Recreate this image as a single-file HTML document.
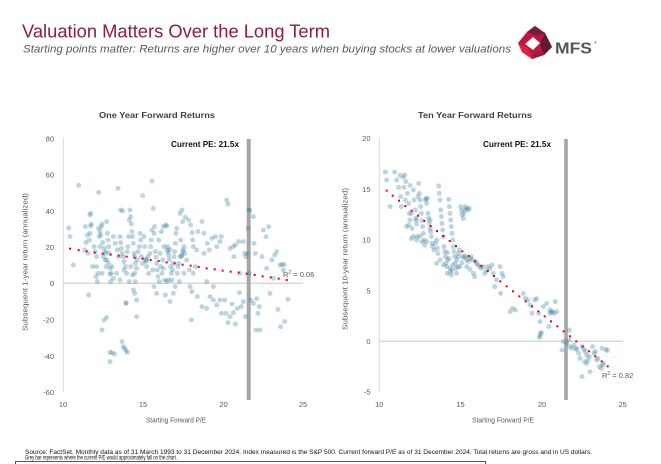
<!DOCTYPE html>
<html><head><meta charset="utf-8">
<style>
html,body{margin:0;padding:0;background:#fff;}
svg{display:block;}
text{font-family:"Liberation Sans",Arial,sans-serif;}
.pt circle{fill:#357b9a;fill-opacity:0.32;}
.tk{font-size:7.5px;fill:#595959;}
</style></head>
<body>
<svg width="661" height="464" viewBox="0 0 661 464" xmlns="http://www.w3.org/2000/svg">
<rect width="661" height="464" fill="#fff"/>
<!-- Header -->
<text x="22" y="37.5" font-size="18" fill="#8c1c40" textLength="308" lengthAdjust="spacingAndGlyphs">Valuation Matters Over the Long Term</text>
<text x="23" y="52.5" font-size="11" font-style="italic" fill="#595959" textLength="488" lengthAdjust="spacingAndGlyphs">Starting points matter: Returns are higher over 10 years when buying stocks at lower valuations</text>
<!-- Logo -->
<g transform="translate(518,26)">
<polygon points="0,17 9,6 17,0 27,7 34,21 26,29 14,33 4,26" fill="#c0163f"/>
<polygon points="9,6 17,0 27,7 20,10" fill="#7a1b3a"/>
<polygon points="27,7 34,21 26,29 22,18" fill="#5e1a30"/>
<polygon points="0,17 4,26 14,33 10,22" fill="#e0213f"/>
<polygon points="7,18 15,11 22,17 15,24" fill="#fff"/>
<polygon points="14,33 26,29 18,24" fill="#9d1a3c"/>
</g>
<text x="555" y="53.5" font-size="16" font-weight="bold" fill="#555" textLength="37" lengthAdjust="spacingAndGlyphs">MFS</text>
<text x="594" y="44" font-size="4" fill="#555">®</text>

<!-- LEFT CHART -->
<text x="99" y="118" font-size="8" font-weight="bold" fill="#404040" textLength="116" lengthAdjust="spacingAndGlyphs">One Year Forward Returns</text>
<line x1="63.3" y1="138" x2="63.3" y2="392" stroke="#d9d9d9" stroke-width="1"/>
<line x1="63.3" y1="283.3" x2="303" y2="283.3" stroke="#c8c8c8" stroke-width="1"/>
<g class="tk" text-anchor="end">
<text x="54" y="141.3">80</text>
<text x="54" y="177.6">60</text>
<text x="54" y="213.8">40</text>
<text x="54" y="250">20</text>
<text x="54" y="286.1">0</text>
<text x="54" y="322.5">-20</text>
<text x="54" y="358.8">-40</text>
<text x="54" y="395">-60</text>
</g>
<g class="tk" text-anchor="middle">
<text x="63" y="407">10</text>
<text x="143" y="407">15</text>
<text x="223.5" y="407">20</text>
<text x="303" y="407">25</text>
</g>
<text class="tk" x="176" y="422.5" text-anchor="middle" textLength="60" lengthAdjust="spacingAndGlyphs">Starting Forward P/E</text>
<text class="tk" transform="translate(27.5,262) rotate(-90)" text-anchor="middle" textLength="138" lengthAdjust="spacingAndGlyphs">Subsequent 1-year return (annualized)</text>
<rect x="246.7" y="139" width="4" height="261" fill="#a6a6a6"/>
<text x="171" y="147" font-size="8.5" font-weight="bold" fill="#111" textLength="68" lengthAdjust="spacingAndGlyphs">Current PE: 21.5x</text>

<g class="pt" transform="translate(0,100) scale(0.33333)">
<circle cx="206" cy="384" r="7.5"/><circle cx="210" cy="410" r="7.5"/><circle cx="220" cy="495" r="7.5"/><circle cx="236" cy="256" r="7.5"/><circle cx="254" cy="450" r="7.5"/><circle cx="256" cy="380" r="7.5"/><circle cx="262" cy="405" r="7.5"/><circle cx="266" cy="585" r="7.5"/><circle cx="270" cy="345" r="7.5"/><circle cx="272" cy="340" r="7.5"/><circle cx="274" cy="372" r="7.5"/><circle cx="272" cy="378" r="7.5"/><circle cx="270" cy="400" r="7.5"/><circle cx="268" cy="420" r="7.5"/><circle cx="278" cy="500" r="7.5"/><circle cx="282" cy="440" r="7.5"/><circle cx="286" cy="455" r="7.5"/><circle cx="290" cy="470" r="7.5"/><circle cx="288" cy="530" r="7.5"/><circle cx="292" cy="545" r="7.5"/><circle cx="258" cy="428" r="7.5"/><circle cx="264" cy="460" r="7.5"/>
<circle cx="296" cy="277" r="7.5"/><circle cx="296" cy="385" r="7.5"/><circle cx="300" cy="395" r="7.5"/><circle cx="302" cy="405" r="7.5"/><circle cx="298" cy="410" r="7.5"/><circle cx="304" cy="380" r="7.5"/><circle cx="306" cy="372" r="7.5"/><circle cx="300" cy="440" r="7.5"/><circle cx="308" cy="428" r="7.5"/><circle cx="312" cy="445" r="7.5"/><circle cx="314" cy="460" r="7.5"/><circle cx="310" cy="470" r="7.5"/><circle cx="316" cy="480" r="7.5"/><circle cx="318" cy="455" r="7.5"/><circle cx="318" cy="500" r="7.5"/><circle cx="320" cy="365" r="7.5"/><circle cx="322" cy="400" r="7.5"/><circle cx="324" cy="420" r="7.5"/><circle cx="326" cy="440" r="7.5"/><circle cx="328" cy="460" r="7.5"/><circle cx="320" cy="480" r="7.5"/><circle cx="326" cy="490" r="7.5"/><circle cx="330" cy="505" r="7.5"/><circle cx="330" cy="522" r="7.5"/><circle cx="334" cy="520" r="7.5"/><circle cx="336" cy="500" r="7.5"/><circle cx="306" cy="690" r="7.5"/><circle cx="312" cy="660" r="7.5"/><circle cx="320" cy="652" r="7.5"/><circle cx="330" cy="757" r="7.5"/><circle cx="330" cy="785" r="7.5"/><circle cx="336" cy="758" r="7.5"/><circle cx="344" cy="762" r="7.5"/><circle cx="332" cy="545" r="7.5"/><circle cx="290" cy="500" r="7.5"/><circle cx="294" cy="520" r="7.5"/><circle cx="306" cy="520" r="7.5"/>
<circle cx="354" cy="265" r="7.5"/><circle cx="362" cy="330" r="7.5"/><circle cx="368" cy="333" r="7.5"/><circle cx="340" cy="410" r="7.5"/><circle cx="346" cy="430" r="7.5"/><circle cx="352" cy="450" r="7.5"/><circle cx="356" cy="470" r="7.5"/><circle cx="360" cy="410" r="7.5"/><circle cx="362" cy="428" r="7.5"/><circle cx="364" cy="445" r="7.5"/><circle cx="366" cy="460" r="7.5"/><circle cx="370" cy="470" r="7.5"/><circle cx="372" cy="485" r="7.5"/><circle cx="376" cy="500" r="7.5"/><circle cx="380" cy="520" r="7.5"/><circle cx="382" cy="455" r="7.5"/><circle cx="384" cy="440" r="7.5"/><circle cx="386" cy="410" r="7.5"/><circle cx="388" cy="360" r="7.5"/><circle cx="390" cy="330" r="7.5"/><circle cx="392" cy="350" r="7.5"/><circle cx="394" cy="372" r="7.5"/><circle cx="396" cy="395" r="7.5"/><circle cx="398" cy="410" r="7.5"/><circle cx="400" cy="430" r="7.5"/><circle cx="402" cy="460" r="7.5"/><circle cx="404" cy="470" r="7.5"/><circle cx="406" cy="490" r="7.5"/><circle cx="404" cy="520" r="7.5"/><circle cx="406" cy="545" r="7.5"/><circle cx="410" cy="505" r="7.5"/><circle cx="412" cy="480" r="7.5"/><circle cx="366" cy="725" r="7.5"/><circle cx="370" cy="740" r="7.5"/><circle cx="374" cy="745" r="7.5"/><circle cx="378" cy="752" r="7.5"/><circle cx="382" cy="757" r="7.5"/><circle cx="378" cy="610" r="7.5"/><circle cx="378" cy="609" r="7.5"/><circle cx="400" cy="570" r="7.5"/><circle cx="404" cy="580" r="7.5"/><circle cx="410" cy="600" r="7.5"/><circle cx="410" cy="650" r="7.5"/><circle cx="414" cy="455" r="7.5"/><circle cx="418" cy="440" r="7.5"/><circle cx="420" cy="400" r="7.5"/><circle cx="422" cy="420" r="7.5"/><circle cx="424" cy="470" r="7.5"/><circle cx="428" cy="490" r="7.5"/><circle cx="340" cy="535" r="7.5"/><circle cx="350" cy="520" r="7.5"/><circle cx="360" cy="540" r="7.5"/><circle cx="388" cy="545" r="7.5"/><circle cx="398" cy="525" r="7.5"/><circle cx="392" cy="500" r="7.5"/><circle cx="372" cy="510" r="7.5"/>
<circle cx="428" cy="287" r="7.5"/><circle cx="432" cy="410" r="7.5"/><circle cx="434" cy="440" r="7.5"/><circle cx="436" cy="478" r="7.5"/><circle cx="438" cy="484" r="7.5"/><circle cx="440" cy="480" r="7.5"/><circle cx="444" cy="470" r="7.5"/><circle cx="440" cy="500" r="7.5"/><circle cx="446" cy="520" r="7.5"/><circle cx="450" cy="460" r="7.5"/><circle cx="452" cy="440" r="7.5"/><circle cx="454" cy="420" r="7.5"/><circle cx="456" cy="243" r="7.5"/><circle cx="460" cy="325" r="7.5"/><circle cx="462" cy="400" r="7.5"/><circle cx="464" cy="380" r="7.5"/><circle cx="466" cy="455" r="7.5"/><circle cx="468" cy="472" r="7.5"/><circle cx="470" cy="490" r="7.5"/><circle cx="472" cy="510" r="7.5"/><circle cx="474" cy="530" r="7.5"/><circle cx="476" cy="420" r="7.5"/><circle cx="478" cy="545" r="7.5"/><circle cx="480" cy="460" r="7.5"/><circle cx="482" cy="500" r="7.5"/><circle cx="486" cy="520" r="7.5"/><circle cx="488" cy="480" r="7.5"/><circle cx="490" cy="505" r="7.5"/><circle cx="492" cy="440" r="7.5"/><circle cx="496" cy="585" r="7.5"/><circle cx="470" cy="580" r="7.5"/><circle cx="494" cy="540" r="7.5"/><circle cx="458" cy="510" r="7.5"/><circle cx="456" cy="390" r="7.5"/><circle cx="484" cy="395" r="7.5"/><circle cx="490" cy="380" r="7.5"/><circle cx="498" cy="375" r="7.5"/><circle cx="462" cy="560" r="7.5"/>
<circle cx="500" cy="378" r="7.5"/><circle cx="502" cy="440" r="7.5"/><circle cx="502" cy="450" r="7.5"/><circle cx="504" cy="455" r="7.5"/><circle cx="506" cy="465" r="7.5"/><circle cx="508" cy="478" r="7.5"/><circle cx="510" cy="448" r="7.5"/><circle cx="512" cy="500" r="7.5"/><circle cx="514" cy="520" r="7.5"/><circle cx="516" cy="540" r="7.5"/><circle cx="518" cy="510" r="7.5"/><circle cx="520" cy="490" r="7.5"/><circle cx="522" cy="470" r="7.5"/><circle cx="524" cy="455" r="7.5"/><circle cx="526" cy="430" r="7.5"/><circle cx="528" cy="400" r="7.5"/><circle cx="530" cy="385" r="7.5"/><circle cx="532" cy="520" r="7.5"/><circle cx="534" cy="500" r="7.5"/><circle cx="540" cy="470" r="7.5"/><circle cx="544" cy="470" r="7.5"/><circle cx="546" cy="465" r="7.5"/><circle cx="548" cy="455" r="7.5"/><circle cx="550" cy="450" r="7.5"/><circle cx="552" cy="440" r="7.5"/><circle cx="554" cy="460" r="7.5"/><circle cx="540" cy="340" r="7.5"/><circle cx="546" cy="330" r="7.5"/><circle cx="548" cy="365" r="7.5"/><circle cx="552" cy="520" r="7.5"/><circle cx="506" cy="540" r="7.5"/><circle cx="500" cy="545" r="7.5"/><circle cx="520" cy="580" r="7.5"/><circle cx="510" cy="605" r="7.5"/><circle cx="526" cy="560" r="7.5"/><circle cx="536" cy="490" r="7.5"/><circle cx="542" cy="420" r="7.5"/><circle cx="538" cy="545" r="7.5"/>
<circle cx="556" cy="352" r="7.5"/><circle cx="566" cy="360" r="7.5"/><circle cx="572" cy="375" r="7.5"/><circle cx="576" cy="398" r="7.5"/><circle cx="578" cy="420" r="7.5"/><circle cx="580" cy="440" r="7.5"/><circle cx="590" cy="450" r="7.5"/><circle cx="594" cy="395" r="7.5"/><circle cx="606" cy="365" r="7.5"/><circle cx="612" cy="400" r="7.5"/><circle cx="622" cy="430" r="7.5"/><circle cx="628" cy="450" r="7.5"/><circle cx="636" cy="415" r="7.5"/><circle cx="646" cy="410" r="7.5"/><circle cx="650" cy="440" r="7.5"/><circle cx="660" cy="425" r="7.5"/><circle cx="664" cy="410" r="7.5"/><circle cx="680" cy="300" r="7.5"/><circle cx="684" cy="312" r="7.5"/><circle cx="690" cy="445" r="7.5"/><circle cx="700" cy="440" r="7.5"/><circle cx="706" cy="435" r="7.5"/><circle cx="716" cy="425" r="7.5"/><circle cx="730" cy="425" r="7.5"/><circle cx="734" cy="460" r="7.5"/><circle cx="738" cy="470" r="7.5"/><circle cx="568" cy="510" r="7.5"/><circle cx="580" cy="520" r="7.5"/><circle cx="570" cy="560" r="7.5"/><circle cx="576" cy="575" r="7.5"/><circle cx="592" cy="590" r="7.5"/><circle cx="606" cy="620" r="7.5"/><circle cx="620" cy="625" r="7.5"/><circle cx="630" cy="590" r="7.5"/><circle cx="640" cy="600" r="7.5"/><circle cx="650" cy="615" r="7.5"/><circle cx="660" cy="600" r="7.5"/><circle cx="664" cy="640" r="7.5"/><circle cx="674" cy="600" r="7.5"/><circle cx="678" cy="640" r="7.5"/><circle cx="684" cy="668" r="7.5"/><circle cx="690" cy="650" r="7.5"/><circle cx="696" cy="612" r="7.5"/><circle cx="700" cy="638" r="7.5"/><circle cx="706" cy="672" r="7.5"/><circle cx="712" cy="625" r="7.5"/><circle cx="718" cy="578" r="7.5"/><circle cx="724" cy="620" r="7.5"/><circle cx="730" cy="605" r="7.5"/><circle cx="736" cy="650" r="7.5"/><circle cx="574" cy="660" r="7.5"/><circle cx="560" cy="480" r="7.5"/><circle cx="586" cy="500" r="7.5"/><circle cx="620" cy="545" r="7.5"/><circle cx="640" cy="560" r="7.5"/><circle cx="612" cy="460" r="7.5"/><circle cx="702" cy="470" r="7.5"/><circle cx="720" cy="520" r="7.5"/>
<circle cx="748" cy="330" r="7.5"/><circle cx="748" cy="331" r="7.5"/><circle cx="744" cy="385" r="7.5"/><circle cx="742" cy="460" r="7.5"/><circle cx="748" cy="520" r="7.5"/><circle cx="752" cy="600" r="7.5"/><circle cx="760" cy="350" r="7.5"/><circle cx="762" cy="430" r="7.5"/><circle cx="766" cy="460" r="7.5"/><circle cx="770" cy="596" r="7.5"/><circle cx="768" cy="690" r="7.5"/><circle cx="774" cy="640" r="7.5"/><circle cx="778" cy="620" r="7.5"/><circle cx="786" cy="470" r="7.5"/><circle cx="790" cy="390" r="7.5"/><circle cx="798" cy="410" r="7.5"/><circle cx="800" cy="505" r="7.5"/><circle cx="806" cy="380" r="7.5"/><circle cx="810" cy="580" r="7.5"/><circle cx="816" cy="480" r="7.5"/><circle cx="820" cy="535" r="7.5"/><circle cx="824" cy="465" r="7.5"/><circle cx="830" cy="455" r="7.5"/><circle cx="834" cy="628" r="7.5"/><circle cx="840" cy="495" r="7.5"/><circle cx="842" cy="680" r="7.5"/><circle cx="846" cy="494" r="7.5"/><circle cx="850" cy="510" r="7.5"/><circle cx="852" cy="494" r="7.5"/><circle cx="854" cy="665" r="7.5"/><circle cx="864" cy="598" r="7.5"/><circle cx="760" cy="610" r="7.5"/><circle cx="780" cy="690" r="7.5"/>
</g>
<g fill="#e00010" transform="translate(0,100) scale(0.33333)">
<rect x="207" y="443" width="6" height="6"/><rect x="233" y="447" width="6" height="6"/><rect x="257" y="451" width="6" height="6"/><rect x="281" y="455" width="6" height="6"/><rect x="305" y="458" width="6" height="6"/><rect x="329" y="461" width="6" height="6"/><rect x="353" y="464" width="6" height="6"/><rect x="377" y="467" width="6" height="6"/><rect x="401" y="470" width="6" height="6"/><rect x="425" y="473" width="6" height="6"/><rect x="449" y="477" width="6" height="6"/><rect x="473" y="480" width="6" height="6"/><rect x="497" y="484" width="6" height="6"/><rect x="521" y="487" width="6" height="6"/><rect x="545" y="491" width="6" height="6"/><rect x="569" y="494" width="6" height="6"/><rect x="593" y="498" width="6" height="6"/><rect x="617" y="502" width="6" height="6"/><rect x="641" y="505" width="6" height="6"/><rect x="665" y="509" width="6" height="6"/><rect x="689" y="512" width="6" height="6"/><rect x="713" y="515" width="6" height="6"/><rect x="737" y="518" width="6" height="6"/><rect x="761" y="522" width="6" height="6"/><rect x="785" y="526" width="6" height="6"/><rect x="809" y="529" width="6" height="6"/><rect x="833" y="533" width="6" height="6"/><rect x="857" y="537" width="6" height="6"/>
</g>
<text class="tk" x="283" y="277">R<tspan font-size="5" dy="-3">2</tspan><tspan dy="3"> = 0.06</tspan></text>

<!-- RIGHT CHART -->
<text x="418" y="118" font-size="8" font-weight="bold" fill="#404040" textLength="114" lengthAdjust="spacingAndGlyphs">Ten Year Forward Returns</text>
<line x1="379.3" y1="138" x2="379.3" y2="392" stroke="#d9d9d9" stroke-width="1"/>
<line x1="379.3" y1="341.3" x2="623" y2="341.3" stroke="#c8c8c8" stroke-width="1"/>
<g class="tk" text-anchor="end">
<text x="370.5" y="141">20</text>
<text x="370.5" y="191.9">15</text>
<text x="370.5" y="242.6">10</text>
<text x="370.5" y="293.3">5</text>
<text x="370.5" y="344">0</text>
<text x="370.5" y="394.7">-5</text>
</g>
<g class="tk" text-anchor="middle">
<text x="379.3" y="407">10</text>
<text x="460.5" y="407">15</text>
<text x="542" y="407">20</text>
<text x="622.7" y="407">25</text>
</g>
<text class="tk" x="503" y="422.5" text-anchor="middle" textLength="62" lengthAdjust="spacingAndGlyphs">Starting Forward P/E</text>
<text class="tk" transform="translate(347.5,259) rotate(-90)" text-anchor="middle" textLength="142" lengthAdjust="spacingAndGlyphs">Subsequent 10-year return (annualized)</text>
<rect x="564.2" y="139" width="3.6" height="261" fill="#a6a6a6"/>
<text x="483" y="147" font-size="8.5" font-weight="bold" fill="#111" textLength="68" lengthAdjust="spacingAndGlyphs">Current PE: 21.5x</text>

<g class="pt" transform="translate(330,100) scale(0.33333)">
<circle cx="166" cy="216" r="7.5"/><circle cx="170" cy="240" r="7.5"/><circle cx="180" cy="320" r="7.5"/><circle cx="194" cy="216" r="7.5"/><circle cx="200" cy="240" r="7.5"/><circle cx="206" cy="262" r="7.5"/><circle cx="210" cy="226" r="7.5"/><circle cx="212" cy="290" r="7.5"/><circle cx="214" cy="320" r="7.5"/><circle cx="220" cy="232" r="7.5"/><circle cx="222" cy="262" r="7.5"/><circle cx="226" cy="300" r="7.5"/><circle cx="228" cy="245" r="7.5"/><circle cx="232" cy="280" r="7.5"/><circle cx="236" cy="310" r="7.5"/><circle cx="240" cy="256" r="7.5"/><circle cx="238" cy="340" r="7.5"/><circle cx="240" cy="360" r="7.5"/><circle cx="236" cy="375" r="7.5"/><circle cx="230" cy="380" r="7.5"/><circle cx="224" cy="225" r="7.5"/><circle cx="244" cy="416" r="7.5"/>
<circle cx="244" cy="340" r="7.5"/><circle cx="246" cy="385" r="7.5"/><circle cx="250" cy="270" r="7.5"/><circle cx="252" cy="300" r="7.5"/><circle cx="256" cy="330" r="7.5"/><circle cx="258" cy="355" r="7.5"/><circle cx="258" cy="360" r="7.5"/><circle cx="260" cy="372" r="7.5"/><circle cx="262" cy="410" r="7.5"/><circle cx="264" cy="290" r="7.5"/><circle cx="266" cy="250" r="7.5"/><circle cx="268" cy="280" r="7.5"/><circle cx="270" cy="300" r="7.5"/><circle cx="272" cy="320" r="7.5"/><circle cx="274" cy="340" r="7.5"/><circle cx="276" cy="362" r="7.5"/><circle cx="278" cy="380" r="7.5"/><circle cx="280" cy="400" r="7.5"/><circle cx="282" cy="420" r="7.5"/><circle cx="284" cy="435" r="7.5"/><circle cx="286" cy="300" r="7.5"/><circle cx="288" cy="295" r="7.5"/><circle cx="290" cy="310" r="7.5"/><circle cx="292" cy="296" r="7.5"/><circle cx="294" cy="340" r="7.5"/><circle cx="296" cy="355" r="7.5"/><circle cx="298" cy="370" r="7.5"/><circle cx="300" cy="385" r="7.5"/><circle cx="302" cy="395" r="7.5"/><circle cx="304" cy="410" r="7.5"/><circle cx="306" cy="430" r="7.5"/><circle cx="308" cy="440" r="7.5"/><circle cx="270" cy="408" r="7.5"/><circle cx="260" cy="420" r="7.5"/><circle cx="250" cy="410" r="7.5"/><circle cx="276" cy="425" r="7.5"/><circle cx="290" cy="425" r="7.5"/><circle cx="300" cy="360" r="7.5"/>
<circle cx="312" cy="450" r="7.5"/><circle cx="316" cy="430" r="7.5"/><circle cx="320" cy="420" r="7.5"/><circle cx="322" cy="445" r="7.5"/><circle cx="324" cy="460" r="7.5"/><circle cx="326" cy="258" r="7.5"/><circle cx="328" cy="280" r="7.5"/><circle cx="330" cy="300" r="7.5"/><circle cx="332" cy="330" r="7.5"/><circle cx="334" cy="350" r="7.5"/><circle cx="336" cy="370" r="7.5"/><circle cx="338" cy="390" r="7.5"/><circle cx="340" cy="410" r="7.5"/><circle cx="342" cy="440" r="7.5"/><circle cx="344" cy="455" r="7.5"/><circle cx="346" cy="470" r="7.5"/><circle cx="348" cy="490" r="7.5"/><circle cx="350" cy="500" r="7.5"/><circle cx="352" cy="520" r="7.5"/><circle cx="354" cy="480" r="7.5"/><circle cx="356" cy="298" r="7.5"/><circle cx="358" cy="320" r="7.5"/><circle cx="360" cy="340" r="7.5"/><circle cx="362" cy="360" r="7.5"/><circle cx="364" cy="380" r="7.5"/><circle cx="366" cy="400" r="7.5"/><circle cx="368" cy="420" r="7.5"/><circle cx="370" cy="440" r="7.5"/><circle cx="372" cy="455" r="7.5"/><circle cx="374" cy="470" r="7.5"/><circle cx="376" cy="490" r="7.5"/><circle cx="378" cy="505" r="7.5"/><circle cx="380" cy="520" r="7.5"/><circle cx="384" cy="470" r="7.5"/><circle cx="386" cy="460" r="7.5"/><circle cx="388" cy="450" r="7.5"/><circle cx="360" cy="505" r="7.5"/><circle cx="362" cy="515" r="7.5"/><circle cx="364" cy="525" r="7.5"/><circle cx="366" cy="510" r="7.5"/><circle cx="368" cy="495" r="7.5"/><circle cx="340" cy="495" r="7.5"/><circle cx="330" cy="480" r="7.5"/><circle cx="320" cy="490" r="7.5"/><circle cx="352" cy="458" r="7.5"/><circle cx="356" cy="475" r="7.5"/>
<circle cx="392" cy="320" r="7.5"/><circle cx="394" cy="332" r="7.5"/><circle cx="396" cy="345" r="7.5"/><circle cx="400" cy="355" r="7.5"/><circle cx="402" cy="340" r="7.5"/><circle cx="404" cy="330" r="7.5"/><circle cx="406" cy="320" r="7.5"/><circle cx="410" cy="325" r="7.5"/><circle cx="414" cy="330" r="7.5"/><circle cx="418" cy="325" r="7.5"/><circle cx="398" cy="470" r="7.5"/><circle cx="402" cy="472" r="7.5"/><circle cx="406" cy="468" r="7.5"/><circle cx="410" cy="478" r="7.5"/><circle cx="414" cy="484" r="7.5"/><circle cx="420" cy="476" r="7.5"/><circle cx="424" cy="470" r="7.5"/><circle cx="426" cy="480" r="7.5"/><circle cx="430" cy="520" r="7.5"/><circle cx="434" cy="530" r="7.5"/><circle cx="436" cy="484" r="7.5"/><circle cx="440" cy="490" r="7.5"/><circle cx="444" cy="495" r="7.5"/><circle cx="450" cy="500" r="7.5"/><circle cx="454" cy="505" r="7.5"/><circle cx="460" cy="500" r="7.5"/><circle cx="464" cy="520" r="7.5"/><circle cx="470" cy="512" r="7.5"/><circle cx="474" cy="500" r="7.5"/><circle cx="480" cy="505" r="7.5"/><circle cx="486" cy="495" r="7.5"/><circle cx="490" cy="520" r="7.5"/><circle cx="494" cy="560" r="7.5"/><circle cx="500" cy="540" r="7.5"/><circle cx="410" cy="500" r="7.5"/><circle cx="390" cy="500" r="7.5"/><circle cx="396" cy="488" r="7.5"/><circle cx="420" cy="508" r="7.5"/><circle cx="380" cy="480" r="7.5"/><circle cx="384" cy="500" r="7.5"/>
<circle cx="510" cy="500" r="7.5"/><circle cx="512" cy="580" r="7.5"/><circle cx="516" cy="520" r="7.5"/><circle cx="520" cy="530" r="7.5"/><circle cx="540" cy="635" r="7.5"/><circle cx="548" cy="625" r="7.5"/><circle cx="556" cy="630" r="7.5"/><circle cx="580" cy="580" r="7.5"/><circle cx="586" cy="595" r="7.5"/><circle cx="594" cy="600" r="7.5"/><circle cx="600" cy="615" r="7.5"/><circle cx="606" cy="640" r="7.5"/><circle cx="614" cy="600" r="7.5"/><circle cx="620" cy="596" r="7.5"/><circle cx="626" cy="640" r="7.5"/><circle cx="630" cy="665" r="7.5"/><circle cx="640" cy="620" r="7.5"/><circle cx="650" cy="610" r="7.5"/><circle cx="656" cy="680" r="7.5"/><circle cx="660" cy="640" r="7.5"/><circle cx="664" cy="636" r="7.5"/><circle cx="668" cy="635" r="7.5"/><circle cx="672" cy="640" r="7.5"/><circle cx="676" cy="605" r="7.5"/><circle cx="680" cy="635" r="7.5"/><circle cx="628" cy="712" r="7.5"/><circle cx="632" cy="700" r="7.5"/><circle cx="630" cy="708" r="7.5"/><circle cx="634" cy="698" r="7.5"/><circle cx="696" cy="750" r="7.5"/><circle cx="660" cy="630" r="7.5"/>
<circle cx="700" cy="725" r="7.5"/><circle cx="710" cy="730" r="7.5"/><circle cx="716" cy="720" r="7.5"/><circle cx="718" cy="690" r="7.5"/><circle cx="720" cy="740" r="7.5"/><circle cx="726" cy="745" r="7.5"/><circle cx="732" cy="735" r="7.5"/><circle cx="738" cy="745" r="7.5"/><circle cx="740" cy="748" r="7.5"/><circle cx="746" cy="760" r="7.5"/><circle cx="750" cy="775" r="7.5"/><circle cx="756" cy="740" r="7.5"/><circle cx="762" cy="748" r="7.5"/><circle cx="766" cy="755" r="7.5"/><circle cx="770" cy="765" r="7.5"/><circle cx="774" cy="780" r="7.5"/><circle cx="778" cy="770" r="7.5"/><circle cx="788" cy="740" r="7.5"/><circle cx="792" cy="760" r="7.5"/><circle cx="796" cy="755" r="7.5"/><circle cx="800" cy="780" r="7.5"/><circle cx="804" cy="775" r="7.5"/><circle cx="808" cy="800" r="7.5"/><circle cx="814" cy="805" r="7.5"/><circle cx="818" cy="795" r="7.5"/><circle cx="820" cy="790" r="7.5"/><circle cx="816" cy="745" r="7.5"/><circle cx="828" cy="748" r="7.5"/><circle cx="832" cy="752" r="7.5"/><circle cx="756" cy="830" r="7.5"/><circle cx="780" cy="815" r="7.5"/><circle cx="764" cy="785" r="7.5"/><circle cx="770" cy="790" r="7.5"/>
</g>
<g fill="#e00010" transform="translate(330,100) scale(0.33333)">
<rect x="167" y="269" width="6" height="6"/><rect x="185" y="284" width="6" height="6"/><rect x="204" y="299" width="6" height="6"/><rect x="223" y="315" width="6" height="6"/><rect x="242" y="329" width="6" height="6"/><rect x="261" y="344" width="6" height="6"/><rect x="280" y="360" width="6" height="6"/><rect x="299" y="375" width="6" height="6"/><rect x="318" y="390" width="6" height="6"/><rect x="337" y="405" width="6" height="6"/><rect x="356" y="420" width="6" height="6"/><rect x="375" y="435" width="6" height="6"/><rect x="394" y="451" width="6" height="6"/><rect x="413" y="465" width="6" height="6"/><rect x="432" y="481" width="6" height="6"/><rect x="451" y="495" width="6" height="6"/><rect x="470" y="510" width="6" height="6"/><rect x="489" y="525" width="6" height="6"/><rect x="508" y="541" width="6" height="6"/><rect x="527" y="556" width="6" height="6"/><rect x="546" y="571" width="6" height="6"/><rect x="565" y="586" width="6" height="6"/><rect x="584" y="601" width="6" height="6"/><rect x="603" y="616" width="6" height="6"/><rect x="622" y="631" width="6" height="6"/><rect x="641" y="646" width="6" height="6"/><rect x="660" y="661" width="6" height="6"/><rect x="679" y="676" width="6" height="6"/><rect x="698" y="691" width="6" height="6"/><rect x="717" y="706" width="6" height="6"/><rect x="736" y="721" width="6" height="6"/><rect x="755" y="736" width="6" height="6"/><rect x="774" y="751" width="6" height="6"/><rect x="793" y="766" width="6" height="6"/><rect x="812" y="781" width="6" height="6"/><rect x="830" y="796" width="6" height="6"/>
</g>
<text class="tk" x="602" y="378">R<tspan font-size="5" dy="-3">2</tspan><tspan dy="3"> = 0.82</tspan></text>

<!-- Footer -->
<text x="25" y="454" font-size="6.3" fill="#111" textLength="567" lengthAdjust="spacingAndGlyphs">Source: FactSet. Monthly data as of 31 March 1993 to 31 December 2024. Index measured is the S&amp;P 500. Current forward P/E as of 31 December 2024. Total returns are gross and in US dollars.</text>
<text x="25" y="459.5" font-size="6.3" fill="#111" textLength="152" lengthAdjust="spacingAndGlyphs">Grey bar represents where the current P/E would approximately fall on the chart.</text>
<path d="M15.5,464 V461.5 H485.5 V464" fill="none" stroke="#222" stroke-width="0.8"/>
</svg>
</body></html>
